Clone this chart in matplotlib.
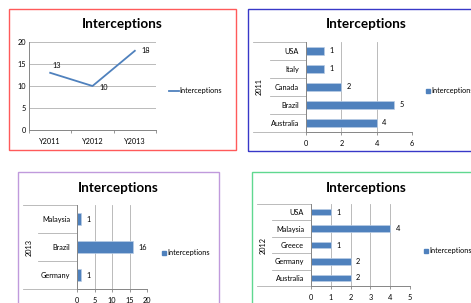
import matplotlib.pyplot as plt
from matplotlib.patches import Rectangle
from matplotlib.lines import Line2D

# données
annees = ['Y2011', 'Y2012', 'Y2013']
inter_annees = [13, 10, 18]

pays_2011 = ['Australia', 'Brazil', 'Canada', 'Italy', 'USA']
inter_2011 = [4, 5, 2, 1, 1]

pays_2013 = ['Germany', 'Brazil', 'Malaysia']
inter_2013 = [1, 16, 1]

pays_2012 = ['Australia', 'Germany', 'Greece', 'Malaysia', 'USA']
inter_2012 = [2, 2, 1, 4, 1]

W, H = 471, 303
BLEU = '#4F81BD'
GRILLE = '#B0B0B0'
AXE = '#868686'
plt.rcParams['font.family'] = ['Lato', 'DejaVu Sans']

fig = plt.figure(figsize=(W / 100, H / 100), dpi=100)


def box(x0, y0, x1, y1):
    # pixels -> fraction de figure (y vers le bas)
    return [x0 / W, 1 - y1 / H, (x1 - x0) / W, (y1 - y0) / H]


def cadre(x0, y0, x1, y1, couleur):
    fig.patches.append(Rectangle((x0 / W, 1 - y1 / H), (x1 - x0) / W, (y1 - y0) / H,
                                 transform=fig.transFigure, fill=False,
                                 edgecolor=couleur, linewidth=1.0))


def titre(x, y):
    fig.text(x / W, 1 - y / H, 'Interceptions', ha='center', va='center',
             fontsize=9.7, fontweight='bold')


def legende(ax, handle, x, y):
    ax.legend([handle], ['Interceptions'], loc='center left', frameon=False,
              bbox_to_anchor=(x / W, 1 - y / H), bbox_transform=fig.transFigure,
              fontsize=5.3, handlelength=1.3 if isinstance(handle, Line2D) else 0.6,
              handleheight=0.6, handletextpad=0.1, borderpad=0, borderaxespad=0)


def style_axe(ax):
    for s in ['top', 'right']:
        ax.spines[s].set_visible(False)
    for s in ['left', 'bottom']:
        ax.spines[s].set_color(AXE)
        ax.spines[s].set_linewidth(0.7)
    ax.tick_params(labelsize=5.3, length=2, width=0.6, color=AXE, pad=2)
    ax.set_axisbelow(True)


def barres(rect, pays, valeurs, xmax, pas, annee, x_gauche, x_inner, y_legende, x_legende):
    ax = fig.add_axes(box(*rect))
    style_axe(ax)
    n = len(pays)
    ax.barh(range(n), valeurs, height=0.4, color=BLEU, edgecolor='#B9CDE5', linewidth=0.5)
    ax.set_xlim(0, xmax)
    ax.set_ylim(-0.5, n - 0.5)
    ax.set_xticks(range(0, xmax + 1, pas))
    ax.set_yticks(range(n))
    ax.set_yticklabels(pays)
    ax.tick_params(axis='y', length=0, pad=5)
    ax.tick_params(axis='x', pad=4)
    ax.grid(axis='x', color=GRILLE, linewidth=0.6)
    for i, v in enumerate(valeurs):
        ax.annotate(str(v), (v, i), xytext=(4, 0), textcoords='offset points',
                    ha='left', va='center', fontsize=5.3)
    # lignes de catégories (axe multi-niveaux)
    x0, y0, x1, y1 = rect
    lg = (x_gauche - x0) / (x1 - x0)
    li = (x_inner - x0) / (x1 - x0)
    for k in range(n + 1):
        yy = k / n
        debut = lg if k in (0, n) else li
        ax.plot([debut, 0], [yy, yy], transform=ax.transAxes, color=GRILLE,
                linewidth=0.6, clip_on=False)
    ax.text((x_gauche + 6 - x0) / (x1 - x0), 0.5, annee, transform=ax.transAxes,
            rotation=90, ha='center', va='center', fontsize=5.3)
    legende(ax, Rectangle((0, 0), 1, 1, color=BLEU), x_legende, y_legende)
    return ax


# graphique 1 : ligne
cadre(9, 9, 236, 150, '#FF5A5A')
titre(122, 24)
ax1 = fig.add_axes(box(29, 42, 156, 130))
style_axe(ax1)
ax1.plot(range(3), inter_annees, color=BLEU, linewidth=1.3)
ax1.set_xlim(-0.5, 2.5)
ax1.set_ylim(0, 20)
ax1.set_yticks([0, 5, 10, 15, 20])
ax1.set_xticks(range(3))
ax1.set_xticklabels(annees)
ax1.set_xticks([-0.5, 0.5, 1.5, 2.5], minor=True)
ax1.tick_params(axis='x', which='major', length=0, pad=6)
ax1.tick_params(axis='x', which='minor', length=2, width=0.6, color=AXE)
ax1.tick_params(axis='y', length=0)
ax1.grid(axis='y', color=GRILLE, linewidth=0.6)
decalages = [(2, 5), (5, -1), (5, 0)]
for i, v in enumerate(inter_annees):
    ax1.annotate(str(v), (i, v), xytext=decalages[i], textcoords='offset points',
                 ha='left', va='center', fontsize=5.3)
legende(ax1, Line2D([0], [0], color=BLEU, linewidth=1.3), 169, 91)

# graphique 2 : 2011
cadre(248, 9, 480, 151, '#3838C8')
titre(366, 24)
barres((306, 42, 412, 132), pays_2011, inter_2011, 6, 2, '2011', 253, 270, 91, 426)

# graphique 3 : 2013
cadre(18, 172, 219, 320, '#C09ADC')
titre(118, 188)
barres((77, 205, 147, 289), pays_2013, inter_2013, 20, 5, '2013', 23, 38, 253, 162)

# graphique 4 : 2012
cadre(252, 172, 480, 320, '#60D890')
titre(366, 188)
barres((311, 204, 410, 286), pays_2012, inter_2012, 5, 1, '2012', 257, 272, 251, 424)

fig.savefig('out.png', dpi=100)
